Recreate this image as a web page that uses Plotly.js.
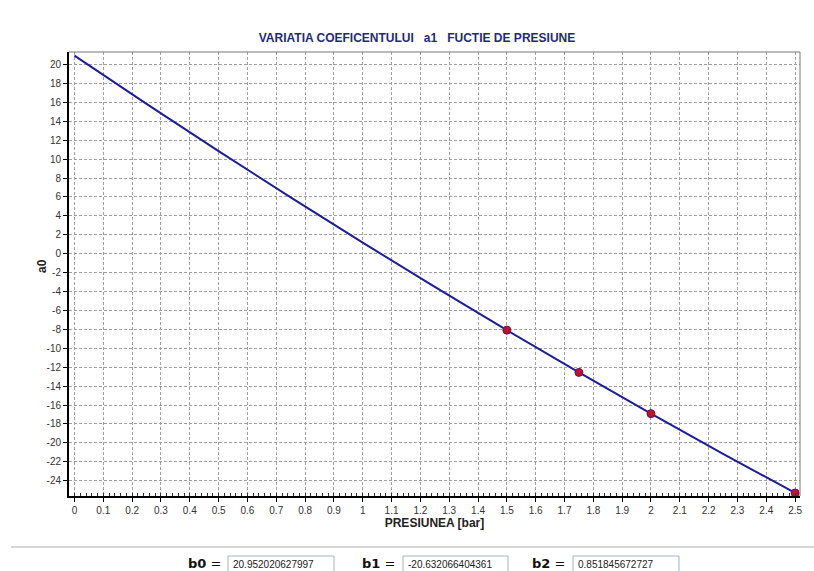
<!DOCTYPE html>
<html>
<head>
<meta charset="utf-8">
<script src="https://cdn.plot.ly/plotly-3.0.1.min.js"></script>
<style>html,body{margin:0;padding:0;background:#fff;}#chart{width:814px;height:571px;}</style>
</head>
<body>
<div id="chart"></div>
<script>
// Fitted curve a0(p)
var curveX = [0, 0.25, 0.5, 0.75, 1.0, 1.25, 1.5, 1.75, 2.0, 2.25, 2.5];
var curveY = [20.95, 15.85, 10.85, 5.96, 1.17, -3.51, -8.08, -12.55, -16.91, -21.16, -25.30];
// Measured points
var pointX = [1.5, 1.75, 2.0, 2.5];
var pointY = [-8.08, -12.55, -16.91, -25.30];
// Coefficients shown under the chart
var coefNames = ['b0', 'b1', 'b2'];
var coefValues = ['20.952020627997', '-20.632066404361', '0.851845672727'];
// Tick labels
var xTicks = [0,0.1,0.2,0.3,0.4,0.5,0.6,0.7,0.8,0.9,1,1.1,1.2,1.3,1.4,1.5,1.6,1.7,1.8,1.9,2,2.1,2.2,2.3,2.4,2.5];
var yTicks = [-24,-22,-20,-18,-16,-14,-12,-10,-8,-6,-4,-2,0,2,4,6,8,10,12,14,16,18,20];

var L = 69, R = 800, T = 52, B = 496;
function px2x(p){ return (p - L) / (R - L); }
function px2y(p){ return (B - p) / (B - T); }

var traces = [
  {x: curveX, y: curveY, type: 'scatter', mode: 'lines', line: {color: '#1c1c9c', width: 2, shape: 'spline'}, hoverinfo: 'skip'},
  {x: pointX, y: pointY, type: 'scatter', mode: 'markers', marker: {color: '#c0102a', size: 8, line: {color: '#6a1060', width: 1}}}
];

var shapes = [
  {type: 'line', xref: 'paper', yref: 'paper', x0: 0, x1: 1, y0: 1, y1: 1, line: {color: '#777', width: 1}},
  {type: 'line', xref: 'paper', yref: 'paper', x0: 1, x1: 1, y0: 0, y1: 1, line: {color: '#777', width: 1}},
  {type: 'line', xref: 'paper', yref: 'paper', x0: px2x(11), x1: px2x(814), y0: px2y(547), y1: px2y(547), line: {color: '#c8c8c8', width: 1.5}}
];
var boxes = [[228, 334], [403, 508], [573, 679]];
var labelRight = [223, 397, 567];
var annotations = [
  {xref: 'paper', yref: 'paper', x: px2x(42), y: px2y(266), xanchor: 'center', yanchor: 'middle', textangle: -90, showarrow: false, text: '<b>a0</b>', font: {family: 'Arial, Liberation Sans, sans-serif', size: 12, color: '#222'}}
];
for (var i = 0; i < coefNames.length; i++) {
  shapes.push({type: 'rect', xref: 'paper', yref: 'paper', x0: px2x(boxes[i][0]), x1: px2x(boxes[i][1]), y0: px2y(556), y1: px2y(580), line: {color: '#a9b3c4', width: 1}, fillcolor: '#ffffff'});
  annotations.push({xref: 'paper', yref: 'paper', x: px2x(boxes[i][0] + 3), y: px2y(564), xanchor: 'left', yanchor: 'middle', showarrow: false, text: coefValues[i], font: {family: 'Arial, Liberation Sans, sans-serif', size: 10, color: '#222'}});
  annotations.push({xref: 'paper', yref: 'paper', x: px2x(labelRight[i]), y: px2y(563), xanchor: 'right', yanchor: 'middle', showarrow: false, text: '<b>' + coefNames[i] + '</b> =', font: {family: 'DejaVu Sans, sans-serif', size: 13, color: '#111'}});
}

var layout = {
  width: 814, height: 571,
  margin: {l: L, r: 814 - R, t: T, b: 571 - B, pad: 0},
  paper_bgcolor: '#ffffff', plot_bgcolor: '#ffffff',
  showlegend: false,
  title: {text: '<b>VARIATIA COEFICENTULUI\u00a0\u00a0 a1\u00a0\u00a0 FUCTIE DE PRESIUNE</b>', x: 417/814, xanchor: 'center', y: 1 - 38/571, yanchor: 'middle', font: {family: 'Arial, Liberation Sans, sans-serif', size: 12, color: '#1e2b7a'}},
  xaxis: {
    range: [-0.019, 2.517], tickvals: xTicks, ticktext: xTicks.map(String),
    showgrid: true, gridcolor: '#a0a0a0', griddash: '3px,2px', gridwidth: 1,
    zeroline: false, showline: true, linecolor: '#000', linewidth: 2,
    ticks: 'outside', ticklen: 4, tickcolor: '#000',
    minor: {dtick: 0.02, ticks: 'inside', ticklen: 3, tickcolor: '#333', showgrid: false},
    tickfont: {family: 'Arial, Liberation Sans, sans-serif', size: 10, color: '#333'},
    title: {text: '<b>PRESIUNEA [bar]</b>', standoff: 0, font: {family: 'Arial, Liberation Sans, sans-serif', size: 12, color: '#222'}},
    automargin: false, fixedrange: true
  },
  yaxis: {
    range: [-25.62, 21.33], tickvals: yTicks, ticktext: yTicks.map(String),
    showgrid: true, gridcolor: '#a0a0a0', griddash: '3px,2px', gridwidth: 1,
    zeroline: false, showline: true, linecolor: '#000', linewidth: 2,
    ticks: 'outside', ticklen: 4, tickcolor: '#000',
    tickfont: {family: 'Arial, Liberation Sans, sans-serif', size: 10, color: '#333'},
    automargin: false, fixedrange: true
  },
  shapes: shapes,
  annotations: annotations
};

Plotly.newPlot('chart', traces, layout, {displayModeBar: false, staticPlot: true});
</script>
</body>
</html>
